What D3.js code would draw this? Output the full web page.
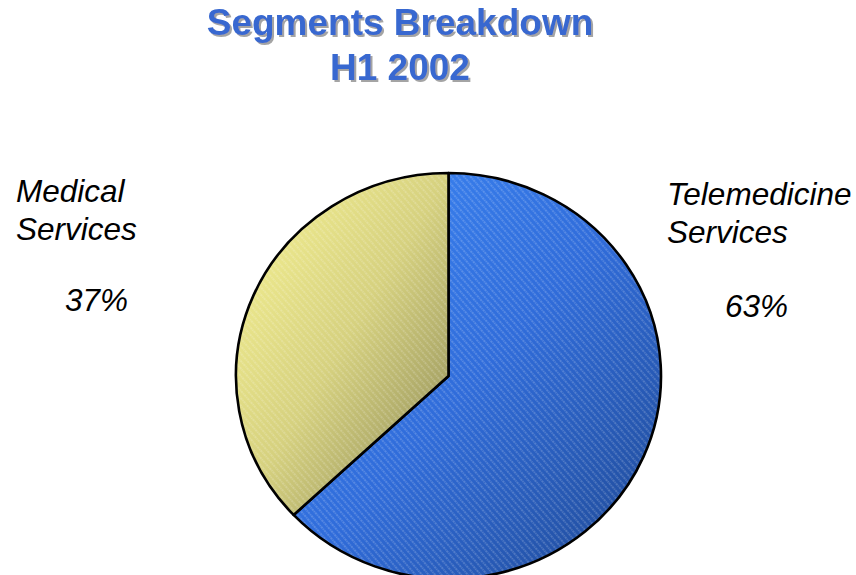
<!DOCTYPE html>
<html>
<head>
<meta charset="utf-8">
<script src="https://cdn.jsdelivr.net/npm/d3@7/dist/d3.min.js"></script>
<style>
  html, body { margin: 0; padding: 0; background: #ffffff; }
  svg { display: block; }
</style>
</head>
<body>
<svg id="chart" width="856" height="575"></svg>
<script>
// Segment shares, first half of 2002
const segments = ["Telemedicine Services", "Medical Services"];
const shares = [63, 37];
const labelLines = [["Telemedicine", "Services"], ["Medical", "Services"]];
const percentLabels = ["63%", "37%"];
const titleLines = ["Segments Breakdown", "H1 2002"];

const svg = d3.select("#chart");
const defs = svg.append("defs");

// Gradients for each slice (light top-left, dark bottom-right)
const gradStops = [
  [["0%", "#3c88f6"], ["50%", "#306cda"], ["100%", "#1e4790"]],
  [["0%", "#f8f494"], ["50%", "#d6d17f"], ["100%", "#8a8756"]]
];
gradStops.forEach((stops, i) => {
  const g = defs.append("linearGradient")
    .attr("id", "grad" + i)
    .attr("x1", "0%").attr("y1", "0%")
    .attr("x2", "100%").attr("y2", "100%");
  stops.forEach(s => g.append("stop").attr("offset", s[0]).attr("stop-color", s[1]));
});

// Fine diagonal hatch overlay
const hatch = defs.append("pattern")
  .attr("id", "hatch")
  .attr("patternUnits", "userSpaceOnUse")
  .attr("width", 5).attr("height", 5)
  .attr("patternTransform", "rotate(-40)");
hatch.append("line")
  .attr("x1", 1).attr("y1", 0).attr("x2", 1).attr("y2", 5)
  .attr("stroke", "#ffffff").attr("stroke-opacity", 0.33)
  .attr("stroke-width", 1.1)
  .attr("stroke-dasharray", "1.2,0.8");

// Soft grey shadow behind the title
const shadow = defs.append("filter")
  .attr("id", "titleShadow")
  .attr("x", "-10%").attr("y", "-20%").attr("width", "120%").attr("height", "150%");
shadow.append("feDropShadow")
  .attr("dx", 2).attr("dy", 2).attr("stdDeviation", 0.6)
  .attr("flood-color", "#9a9a9a").attr("flood-opacity", 0.9);

// Title
const title = svg.append("g").attr("filter", "url(#titleShadow)");
titleLines.forEach((t, i) => {
  title.append("text")
    .attr("x", 400).attr("y", 35 + i * 45)
    .attr("text-anchor", "middle")
    .attr("font-family", "Liberation Sans, Arial, sans-serif")
    .attr("font-weight", "bold").attr("font-size", 37)
    .attr("fill", "#3768d0")
    .text(t);
});

// Pie
const cx = 448.5, cy = 376, rx = 212.5, ry = 203;
const pie = d3.pie().sort(null).value(d => d)(shares);
const arc = d3.arc().innerRadius(0).outerRadius(rx);

const pieG = svg.append("g")
  .attr("transform", `translate(${cx},${cy}) scale(1,${ry / rx})`);

const slices = pieG.selectAll("g.slice").data(pie).enter().append("g").attr("class", "slice");
slices.append("path")
  .attr("d", arc)
  .attr("fill", (d, i) => `url(#grad${i})`);
slices.append("path")
  .attr("d", arc)
  .attr("fill", "url(#hatch)");
slices.append("path")
  .attr("d", arc)
  .attr("fill", "none")
  .attr("stroke", "#000000")
  .attr("stroke-width", 2.6)
  .attr("stroke-linejoin", "round")
  .attr("vector-effect", "non-scaling-stroke");

// Category and percentage labels
const labelPos = [
  { x: 667, y: 205, px: 725, py: 317 },
  { x: 16, y: 202, px: 65, py: 311 }
];
labelLines.forEach((lines, i) => {
  const p = labelPos[i];
  lines.forEach((ln, j) => {
    svg.append("text")
      .attr("x", p.x).attr("y", p.y + j * 38)
      .attr("font-family", "Liberation Sans, Arial, sans-serif")
      .attr("font-style", "italic").attr("font-size", 31.5)
      .attr("fill", "#000000")
      .text(ln);
  });
  svg.append("text")
    .attr("x", p.px).attr("y", p.py)
    .attr("font-family", "Liberation Sans, Arial, sans-serif")
    .attr("font-style", "italic").attr("font-size", 31.5)
    .attr("fill", "#000000")
    .text(percentLabels[i]);
});
</script>
</body>
</html>
